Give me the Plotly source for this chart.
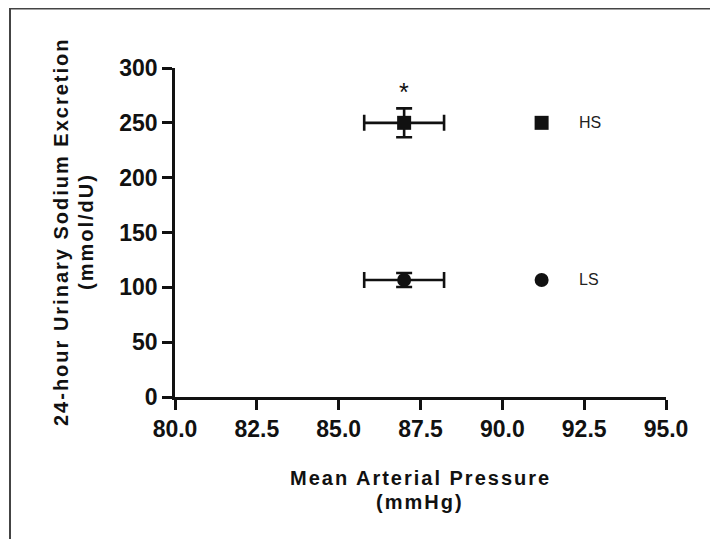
import plotly.graph_objects as go

# ---- data ----
groups = ["HS", "LS"]
map_mean = [87.0, 87.0]          # Mean Arterial Pressure (mmHg)
map_err = [1.22, 1.22]
na_mean = [250.0, 106.7]         # 24-hour urinary sodium excretion
na_err = [13.2, 6.4]
symbols = ["square", "circle"]
legend_x = [91.2, 91.2]
sig_marks = ["*", ""]
sig_y = [278, None]

x_ticks = [80.0, 82.5, 85.0, 87.5, 90.0, 92.5, 95.0]
y_ticks = [0, 50, 100, 150, 200, 250, 300]

y_title_lines = ["24-hour Urinary Sodium Excretion", "(mmol/dU)"]
x_title_lines = ["Mean Arterial Pressure", "(mmHg)"]

FONT = "Liberation Sans, Arial, sans-serif"
BLACK = "#111111"

# figure geometry (page body has an 8px margin)
W, H = 702, 531
L, R, T, B = 167, 44, 60, 142
PW, PH = W - L - R, H - T - B


def px_x(p):
    return (p - L) / PW


def px_y(p):
    return (H - B - p) / PH


fig = go.Figure()

for g, xm, xe, ym, ye, sym in zip(groups, map_mean, map_err, na_mean, na_err, symbols):
    fig.add_trace(go.Scatter(
        x=[xm], y=[ym], mode="markers", name=g, showlegend=False,
        marker=dict(symbol=sym, size=14, color=BLACK),
        error_x=dict(type="data", array=[xe], color=BLACK, thickness=2.6, width=8),
        error_y=dict(type="data", array=[ye], color=BLACK, thickness=2.6, width=8),
        cliponaxis=False,
    ))

# in-plot legend (GraphPad style)
for g, lx, ym, sym in zip(groups, legend_x, na_mean, symbols):
    fig.add_trace(go.Scatter(
        x=[lx], y=[ym], mode="markers", showlegend=False,
        marker=dict(symbol=sym, size=14, color=BLACK), cliponaxis=False,
    ))
    fig.add_annotation(x=lx, y=ym, xref="x", yref="y", text=g, showarrow=False,
                       xanchor="left", yanchor="middle", xshift=35,
                       font=dict(family=FONT, size=16, color="#222222"))

# significance marker
for xm, s, sy in zip(map_mean, sig_marks, sig_y):
    if s:
        fig.add_annotation(x=xm, y=sy, xref="x", yref="y", text=s, showarrow=False,
                           xanchor="center", yanchor="middle",
                           font=dict(family=FONT, size=25, color=BLACK))

# axis titles
ls = "letter-spacing:2px"
for line, xp in zip(y_title_lines, [53, 78]):
    fig.add_annotation(
        x=px_x(xp), y=px_y(224), xref="paper", yref="paper", textangle=-90,
        showarrow=False, xanchor="center", yanchor="middle",
        text=f"<span style='{ls}'><b>{line}</b></span>",
        font=dict(family=FONT, size=20, color=BLACK),
    )
for line, yp in zip(x_title_lines, [470, 494]):
    fig.add_annotation(
        x=px_x(412), y=px_y(yp), xref="paper", yref="paper", showarrow=False,
        xanchor="center", yanchor="middle",
        text=f"<span style='{ls}'><b>{line}</b></span>",
        font=dict(family=FONT, size=20, color=BLACK),
    )

# outer frame (only left and top edges visible)
fig.add_shape(type="rect", xref="paper", yref="paper",
              x0=px_x(2), x1=px_x(W + 100),
              y0=px_y(H + 100), y1=px_y(0.5),
              line=dict(color="#444444", width=2), fillcolor="rgba(0,0,0,0)", layer="below")

fig.update_xaxes(
    range=[80, 95], tickvals=x_ticks, ticktext=[f"{v:.1f}" for v in x_ticks],
    showline=True, linewidth=2.5, linecolor=BLACK, mirror=False,
    ticks="outside", ticklen=10, tickwidth=2.5, tickcolor=BLACK,
    showgrid=False, zeroline=False,
    tickfont=dict(family=FONT, size=23, color=BLACK, weight="bold"),
)
fig.update_yaxes(
    range=[0, 300], tickvals=y_ticks, ticktext=[str(v) for v in y_ticks],
    showline=True, linewidth=2.5, linecolor=BLACK, mirror=False,
    ticks="outside", ticklen=10, tickwidth=2.5, tickcolor=BLACK,
    showgrid=False, zeroline=False, ticklabelstandoff=0,
    tickfont=dict(family=FONT, size=23, color=BLACK, weight="bold"),
)

fig.update_layout(
    width=W, height=H,
    margin=dict(l=L, r=R, t=T, b=B),
    paper_bgcolor="white", plot_bgcolor="white",
    showlegend=False,
)

fig.write_html("out.html")
